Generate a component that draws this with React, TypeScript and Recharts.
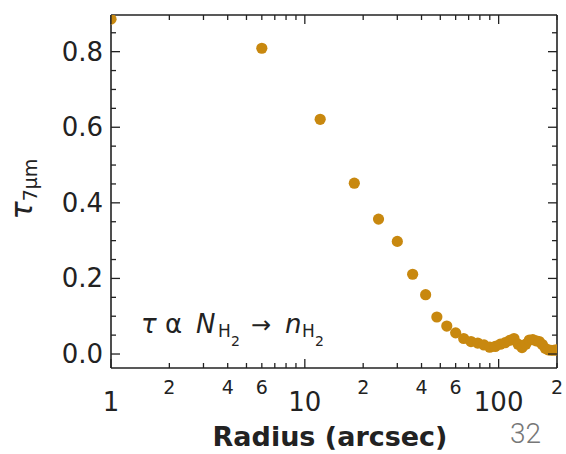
import { ScatterChart, Scatter, XAxis, YAxis } from "recharts";

const radius = [
  1, 6, 12, 18, 24, 30, 36, 42, 48, 54, 60, 66, 72, 78, 84, 90, 96, 102, 108,
  114, 120, 126, 132, 138, 144, 150, 156, 162, 168, 174, 180, 186, 192, 198,
];
const tau = [
  0.886, 0.809, 0.621, 0.452, 0.357, 0.298, 0.211, 0.157, 0.098, 0.074, 0.056,
  0.041, 0.033, 0.029, 0.024, 0.018, 0.02, 0.026, 0.03, 0.036, 0.041, 0.026,
  0.017, 0.026, 0.037, 0.038, 0.035, 0.033, 0.025, 0.015, 0.011, 0.01, 0.01,
  0.011,
];

const xTicks = [1, 2, 3, 4, 5, 6, 7, 8, 9, 10, 20, 30, 40, 50, 60, 70, 80, 90, 100, 200];
const xMajor = [1, 10, 100];
// minor labels show only the leading digit, as in the figure
const xLabels: Record<number, string> = {
  1: "1", 2: "2", 4: "4", 6: "6", 10: "10", 20: "2", 40: "4", 60: "6", 100: "100", 200: "2",
};
const yTicks = [
  0, 0.05, 0.1, 0.15, 0.2, 0.25, 0.3, 0.35, 0.4, 0.45, 0.5, 0.55, 0.6, 0.65,
  0.7, 0.75, 0.8, 0.85,
];
const yLabelled = [0, 0.2, 0.4, 0.6, 0.8];

const data = radius.map((r, i) => ({ r, tau: tau[i] }));

const INK = "#222";
const DOT = "#c8880f";

const isYMajor = (v: number) => yLabelled.some((l) => Math.abs(l - v) < 1e-6);

function BottomTick(props: any) {
  const { x, y, payload } = props;
  const v = payload.value;
  const major = xMajor.includes(v);
  const len = major ? 9 : 5;
  const label = xLabels[v];
  return (
    <g>
      <line x1={x} x2={x} y1={y} y2={y - len} stroke={INK} strokeWidth={1.3} />
      {label && (
        <text
          x={x}
          y={major ? y + 43 : y + 26}
          textAnchor="middle"
          fontFamily="DejaVu Sans"
          fontSize={major ? 26 : 19}
          fill={INK}
        >
          {label}
        </text>
      )}
    </g>
  );
}

function TopTick(props: any) {
  const { x, y, payload } = props;
  const len = xMajor.includes(payload.value) ? 9 : 5;
  return <line x1={x} x2={x} y1={y} y2={y + len} stroke={INK} strokeWidth={1.3} />;
}

function LeftTick(props: any) {
  const { x, y, payload } = props;
  const v = payload.value;
  const major = isYMajor(v);
  return (
    <g>
      <line x1={x} x2={x + (major ? 9 : 5)} y1={y} y2={y} stroke={INK} strokeWidth={1.3} />
      {major && (
        <text
          x={x - 8}
          y={y + 9}
          textAnchor="end"
          fontFamily="DejaVu Sans"
          fontSize={26}
          fill={INK}
        >
          {v.toFixed(1)}
        </text>
      )}
    </g>
  );
}

function RightTick(props: any) {
  const { x, y, payload } = props;
  const major = isYMajor(payload.value);
  return <line x1={x} x2={x - (major ? 9 : 5)} y1={y} y2={y} stroke={INK} strokeWidth={1.3} />;
}

const frame = { stroke: INK, strokeWidth: 1.6 };

export default function App() {
  return (
    <div style={{ position: "absolute", left: 0, top: 0, width: 566, height: 454, background: "#fff" }}>
      <ScatterChart
        width={566}
        height={454}
        margin={{ top: 14, right: 8, bottom: 85, left: 110 }}
      >
        <XAxis
          xAxisId="b"
          type="number"
          dataKey="r"
          scale="log"
          domain={[1, 200]}
          allowDataOverflow
          ticks={xTicks}
          interval={0}
          height={1}
          tickSize={0}
          tickMargin={0}
          tickLine={false}
          axisLine={frame}
          tick={<BottomTick />}
        />
        <XAxis
          xAxisId="t"
          orientation="top"
          type="number"
          dataKey="r"
          scale="log"
          domain={[1, 200]}
          allowDataOverflow
          ticks={xTicks}
          interval={0}
          height={1}
          tickSize={0}
          tickMargin={0}
          tickLine={false}
          axisLine={frame}
          tick={<TopTick />}
        />
        <YAxis
          yAxisId="l"
          type="number"
          dataKey="tau"
          domain={[-0.037, 0.897]}
          allowDataOverflow
          ticks={yTicks}
          interval={0}
          width={1}
          tickSize={0}
          tickMargin={0}
          tickLine={false}
          axisLine={frame}
          tick={<LeftTick />}
        />
        <YAxis
          yAxisId="r"
          orientation="right"
          type="number"
          dataKey="tau"
          domain={[-0.037, 0.897]}
          allowDataOverflow
          ticks={yTicks}
          interval={0}
          width={1}
          tickSize={0}
          tickMargin={0}
          tickLine={false}
          axisLine={frame}
          tick={<RightTick />}
        />
        <Scatter
          xAxisId="b"
          yAxisId="l"
          data={data}
          isAnimationActive={false}
          shape={(p: any) => <circle cx={p.cx} cy={p.cy} r={5.6} fill={DOT} />}
        />
      </ScatterChart>
      <svg
        width={566}
        height={454}
        style={{ position: "absolute", left: 0, top: 0, pointerEvents: "none" }}
      >
        <text
          x={330}
          y={446}
          textAnchor="middle"
          fontFamily="DejaVu Sans"
          fontWeight="bold"
          fontSize={27}
          fill={INK}
        >
          Radius (arcsec)
        </text>
        <text x={510} y={443} fontFamily="Roboto" fontWeight={300} fontSize={28} fill="#777">
          32
        </text>
        <text
          transform="translate(32,189) rotate(-90)"
          textAnchor="middle"
          fontFamily="DejaVu Sans"
          fill={INK}
        >
          <tspan fontSize={30} fontStyle="italic">τ</tspan>
          <tspan fontSize={19} dy={5}>7μm</tspan>
        </text>
        <g fontFamily="DejaVu Sans" fill={INK}>
          <text x={141} y={333} fontSize={26} fontStyle="italic">τ</text>
          <text x={165} y={333} fontSize={26}>α</text>
          <text x={196} y={333} fontSize={26} fontStyle="italic">N</text>
          <text x={218} y={337} fontSize={17}>H</text>
          <text x={231} y={346} fontSize={14}>2</text>
          <text x={251} y={333} fontSize={24}>→</text>
          <text x={285} y={333} fontSize={26} fontStyle="italic">n</text>
          <text x={302} y={337} fontSize={17}>H</text>
          <text x={315} y={346} fontSize={14}>2</text>
        </g>
      </svg>
    </div>
  );
}
